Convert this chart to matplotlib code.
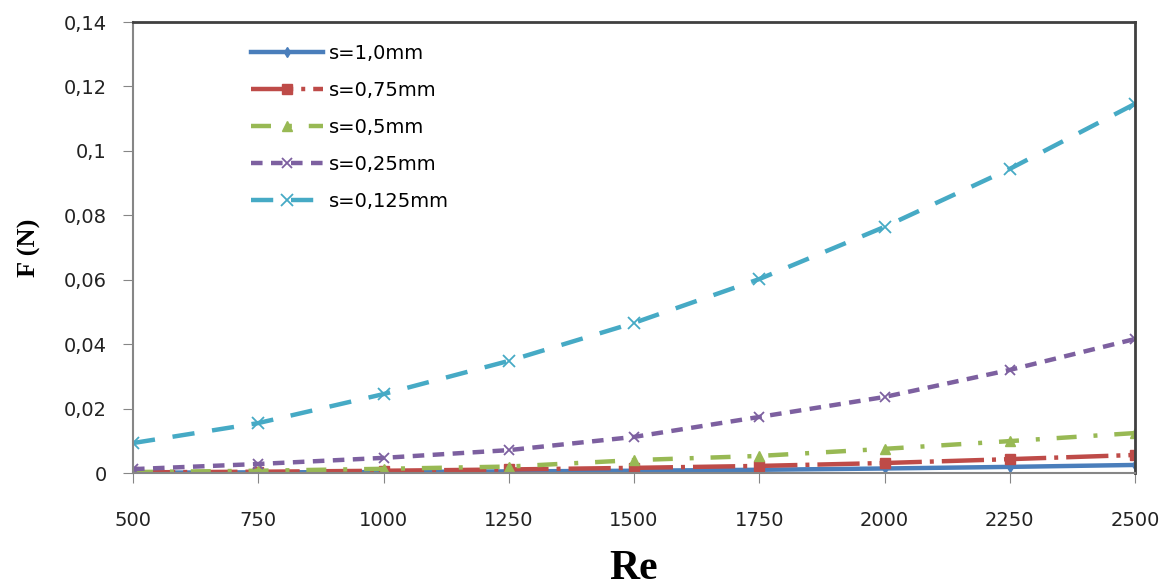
import matplotlib
matplotlib.use("Agg")
import matplotlib.pyplot as plt
from matplotlib.ticker import FuncFormatter

re_vals = [500, 750, 1000, 1250, 1500, 1750, 2000, 2250, 2500]

f_s100 = [0.0001, 0.0002, 0.0003, 0.0005, 0.0007, 0.0010, 0.0014, 0.0019, 0.0025]
f_s075 = [0.0002, 0.0004, 0.0007, 0.0011, 0.0016, 0.0022, 0.0031, 0.0043, 0.0056]
f_s050 = [0.0003, 0.0007, 0.0013, 0.0020, 0.0040, 0.0053, 0.0075, 0.0099, 0.0124]
f_s025 = [0.0012, 0.0028, 0.0047, 0.0071, 0.0112, 0.0174, 0.0236, 0.0320, 0.0416]
f_s0125 = [0.0093, 0.0155, 0.0245, 0.0348, 0.0466, 0.0602, 0.0764, 0.0944, 0.1146]

labels = ["s=1,0mm", "s=0,75mm", "s=0,5mm", "s=0,25mm", "s=0,125mm"]

fig = plt.figure(figsize=(11.73, 5.87), dpi=100)
ax = fig.add_axes([0.1134, 0.1942, 0.8542, 0.7683])

lw = 3.2
ax.plot(re_vals, f_s100, color="#4A7EBB", lw=lw, ls="-", marker="d", ms=5, label=labels[0])
ax.plot(re_vals, f_s075, color="#BE4B48", lw=lw, ls=(0, (9.5, 1.8, 0.9, 1.8)), marker="s", ms=7, label=labels[1])
ax.plot(re_vals, f_s050, color="#98B954", lw=lw, ls=(0, (4.5, 3.8, 0.9, 3.8)), marker="^", ms=7, label=labels[2])
ax.plot(re_vals, f_s025, color="#7D60A0", lw=lw, ls=(0, (2.6, 1.9)), marker="x", ms=7, mew=1.3, label=labels[3])
ax.plot(re_vals, f_s0125, color="#46AAC5", lw=lw, ls=(0, (5, 4)), marker="x", ms=8, mew=1.3, label=labels[4])

ax.set_xlim(500, 2500)
ax.set_ylim(0, 0.14)
ax.set_xticks(re_vals)
ax.set_yticks([0, 0.02, 0.04, 0.06, 0.08, 0.1, 0.12, 0.14])

def comma(v, pos):
    s = ("%.2f" % v).rstrip("0").rstrip(".")
    return s.replace(".", ",")

ax.yaxis.set_major_formatter(FuncFormatter(comma))
ax.tick_params(axis="both", direction="out", length=7, color="#868686", labelsize=14, labelcolor="#222222")
ax.tick_params(axis="x", pad=20)
ax.tick_params(axis="y", pad=12)

for side in ["left", "bottom"]:
    ax.spines[side].set_color("#868686")
    ax.spines[side].set_linewidth(1.5)
for side in ["top", "right"]:
    ax.spines[side].set_color("#404040")
    ax.spines[side].set_linewidth(2)

ax.set_xlabel("Re", fontfamily="Liberation Serif", fontweight="bold", fontsize=30, labelpad=15)
ax.set_ylabel("F (N)", fontfamily="Liberation Serif", fontweight="bold", fontsize=19, labelpad=16)

ax.legend(loc="upper left", bbox_to_anchor=(0.1, 0.99), frameon=False, fontsize=14,
          handlelength=3.7, labelspacing=0.92, handletextpad=0.3)

fig.savefig("out.png", dpi=100)
